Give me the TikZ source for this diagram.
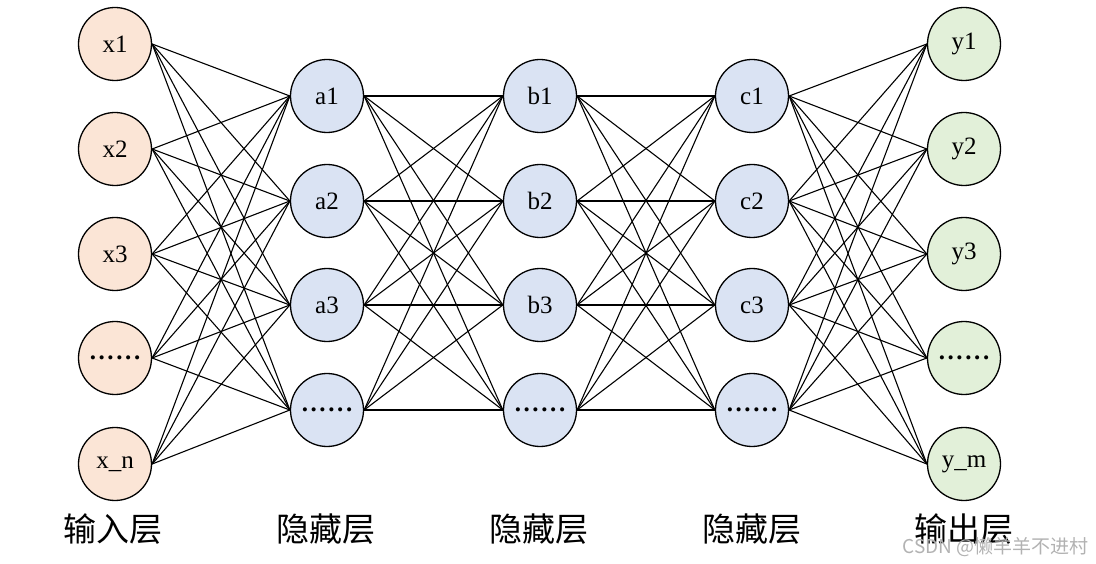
\documentclass[tikz,border=0pt]{standalone}
\usepackage{fontspec}
\setmainfont{Liberation Serif}
\newfontfamily\cjk{Noto Sans CJK SC}
\begin{document}
\begin{tikzpicture}[x=1pt,y=-1pt,
  neuron/.style={circle,draw=black,line width=1.3pt,minimum size=73pt,inner sep=0pt,font=\fontsize{25}{28}\selectfont},
  inp/.style={neuron,fill={rgb,255:red,251;green,229;blue,214}},
  hid/.style={neuron,fill={rgb,255:red,218;green,227;blue,243}},
  outp/.style={neuron,fill={rgb,255:red,226;green,240;blue,217}},
  conn/.style={line width=1.1pt,black},
  layerlabel/.style={font=\cjk\fontsize{33}{36}\selectfont}]
\useasboundingbox (0,0) rectangle (1096,564);
\newcommand{\dotsx}{{\bfseries .\kern2.6pt.\kern2.6pt.\kern2.6pt.\kern2.6pt.\kern2.6pt.}}
% input layer
\node[inp] (x1) at (115,44) {x1};
\node[inp] (x2) at (115,149) {x2};
\node[inp] (x3) at (115,254) {x3};
\node[inp] (x4) at (115,358) {\dotsx};
\node[inp] (x5) at (115,464) {x\_n};
% hidden layers
\node[hid] (a1) at (327,96) {a1};
\node[hid] (a2) at (327,201) {a2};
\node[hid] (a3) at (327,305) {a3};
\node[hid] (a4) at (327,410) {\dotsx};
\node[hid] (b1) at (540,96) {b1};
\node[hid] (b2) at (540,201) {b2};
\node[hid] (b3) at (540,305) {b3};
\node[hid] (b4) at (540,410) {\dotsx};
\node[hid] (c1) at (752,96) {c1};
\node[hid] (c2) at (752,201) {c2};
\node[hid] (c3) at (752,305) {c3};
\node[hid] (c4) at (752,410) {\dotsx};
% output layer
\node[outp] (y1) at (964,44) {y1};
\node[outp] (y2) at (964,149) {y2};
\node[outp] (y3) at (964,254) {y3};
\node[outp] (y4) at (964,358) {\dotsx};
\node[outp] (y5) at (964,464) {y\_m};
% connections
\foreach \i in {1,...,5}{\foreach \j in {1,...,4}{\draw[conn] (x\i.east) -- (a\j.west);}}
\foreach \i in {1,...,4}{\foreach \j in {1,...,4}{\draw[conn] (a\i.east) -- (b\j.west);}}
\foreach \i in {1,...,4}{\foreach \j in {1,...,4}{\draw[conn] (b\i.east) -- (c\j.west);}}
\foreach \i in {1,...,4}{\foreach \j in {1,...,5}{\draw[conn] (c\i.east) -- (y\j.west);}}
% labels
\node[layerlabel] (l1) at (113,529) {输入层};
\node[layerlabel] (l2) at (326,529) {隐藏层};
\node[layerlabel] (l3) at (539,529) {隐藏层};
\node[layerlabel] (l4) at (752,529) {隐藏层};
\node[layerlabel] (l5) at (964,529) {输出层};
\node[font=\cjk\fontsize{19}{21}\selectfont,text=black!30,anchor=east] (wm) at (1092,547) {CSDN @懒羊羊不进村};
\end{tikzpicture}
\end{document}
